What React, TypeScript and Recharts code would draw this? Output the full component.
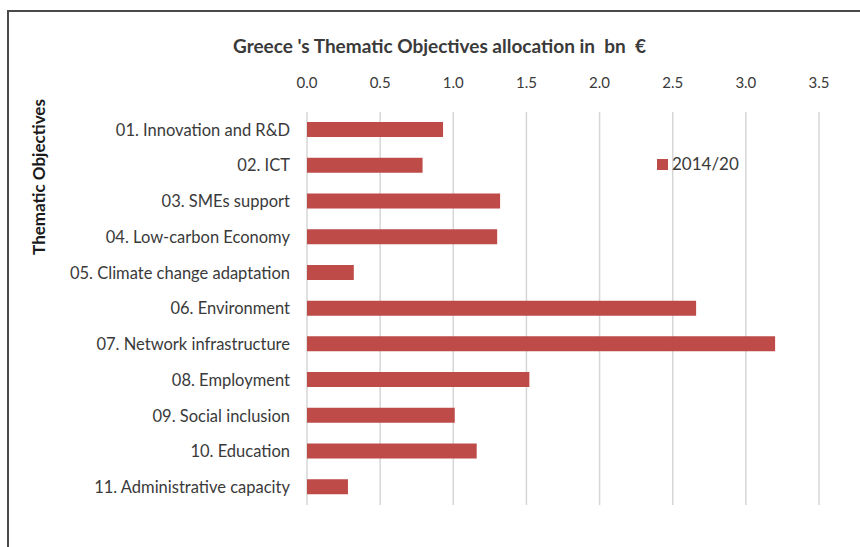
import React from "react";
import { BarChart, Bar, XAxis, YAxis, CartesianGrid, Legend } from "recharts";

const categories = [
  "01. Innovation and R&D",
  "02. ICT",
  "03. SMEs support",
  "04. Low-carbon Economy",
  "05. Climate change adaptation",
  "06.  Environment",
  "07. Network infrastructure",
  "08. Employment",
  "09. Social inclusion",
  "10. Education",
  "11. Administrative capacity",
];
const values2014 = [0.93, 0.79, 1.32, 1.3, 0.32, 2.66, 3.2, 1.52, 1.01, 1.16, 0.28];
const xTicks = [0, 0.5, 1, 1.5, 2, 2.5, 3, 3.5];

const data = categories.map((name, i) => ({ name, v: values2014[i] }));

const FONT = "Lato, 'Open Sans', sans-serif";
const TEXT = "#3a3a3a";

const renderLegend = (props: any) => {
  const payload = props.payload || [];
  return (
    <div style={{ display: "flex", alignItems: "center", fontSize: 17, fontFamily: FONT, color: TEXT, lineHeight: "20px" }}>
      {payload.map((p: any) => (
        <span key={p.value} style={{ display: "flex", alignItems: "center" }}>
          <span style={{ display: "inline-block", width: 11, height: 11, background: p.color, marginRight: 4 }} />
          {p.value}
        </span>
      ))}
    </div>
  );
};

export default function App() {
  return (
    <div style={{ position: "absolute", left: 0, top: 0, width: 860, height: 547, background: "#fff", fontFamily: FONT, overflow: "hidden" }}>
      <div
        style={{
          position: "absolute",
          left: 7,
          top: 10,
          width: 870,
          height: 560,
          borderLeft: "2px solid #4a4a4a",
          borderTop: "2px solid #4a4a4a",
        }}
      />
      <div
        style={{
          position: "absolute",
          left: 233,
          top: 34,
          fontSize: 19,
          fontWeight: 700,
          color: TEXT,
          whiteSpace: "pre",
        }}
      >
        Greece 's Thematic Objectives allocation in  bn  €
      </div>
      <div style={{ position: "absolute", left: 0, top: 0 }}>
        <BarChart
          width={860}
          height={547}
          data={data}
          layout="vertical"
          margin={{ top: 82, right: 41, bottom: 42, left: 0 }}
        >
          <CartesianGrid horizontal={false} vertical={true} stroke="#d6d6d6" strokeWidth={1.5} />
          <XAxis
            type="number"
            orientation="top"
            domain={[0, 3.5]}
            ticks={xTicks}
            tickFormatter={(v: number) => v.toFixed(1)}
            axisLine={false}
            tickLine={false}
            tickMargin={18}
            height={30}
            tick={{ fill: TEXT, fontSize: 15, fontFamily: FONT }}
          />
          <YAxis
            type="category"
            dataKey="name"
            width={307}
            axisLine={false}
            tickLine={false}
            tickMargin={11}
            interval={0}
            tick={{ fill: TEXT, fontSize: 16.5, fontFamily: FONT }}
            label={{
              content: () => (
                <text
                  x={38}
                  y={177}
                  transform="rotate(-90 38 177)"
                  textAnchor="middle"
                  dominantBaseline="central"
                  fontSize={17}
                  fontWeight={700}
                  fill="#1a1a1a"
                  fontFamily={FONT}
                >
                  Thematic Objectives
                </text>
              ),
            }}
          />
          <Legend
            layout="horizontal"
            verticalAlign="middle"
            align="center"
            content={renderLegend}
            wrapperStyle={{ top: 154, left: 657, width: 100 }}
          />
          <Bar dataKey="v" name="2014/20" fill="#be4b48" barSize={15} isAnimationActive={false} />
        </BarChart>
      </div>
    </div>
  );
}
